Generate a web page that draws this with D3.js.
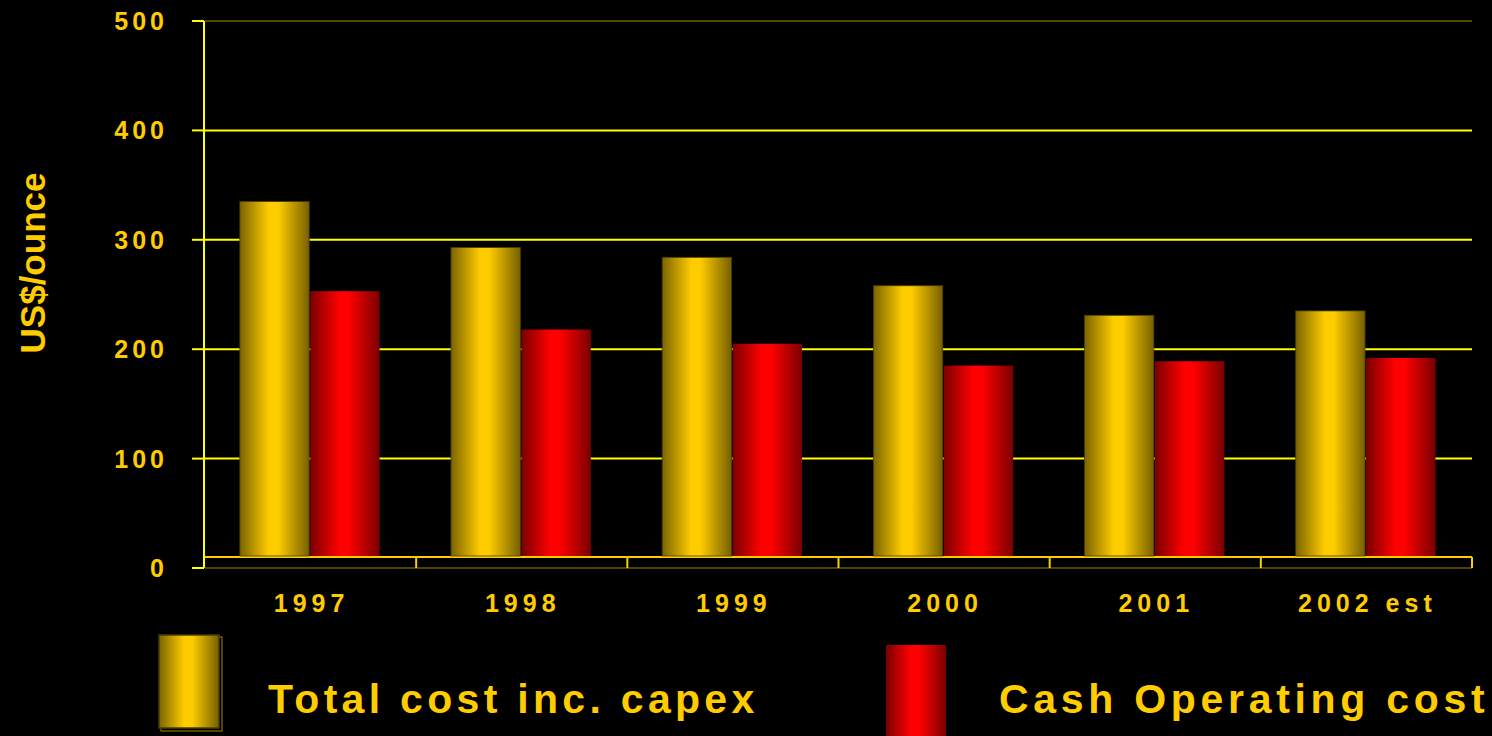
<!DOCTYPE html>
<html>
<head>
<meta charset="utf-8">
<script src="https://cdn.jsdelivr.net/npm/d3@7"></script>
<style>
  html, body { margin: 0; padding: 0; background: #000; }
  svg { display: block; }
  text { font-family: "Liberation Sans", Arial, sans-serif; font-weight: bold; fill: #ffcc00; }
</style>
</head>
<body>
<svg id="chart" width="1492" height="736"></svg>
<script>
const categories = ["1997", "1998", "1999", "2000", "2001", "2002 est"];
const seriesNames = ["Total cost inc. capex", "Cash Operating cost"];
const totalCost = [335, 293, 284, 258, 231, 235];
const cashCost = [253, 218, 205, 185, 189, 192];
const yTicks = [0, 100, 200, 300, 400, 500];

const svg = d3.select("#chart");

const left = 205, right = 1472;
const y = d3.scaleLinear().domain([0, 500]).range([568, 21]);
const floorBack = 557, floorFront = 568;

const x0 = d3.scaleBand().domain(categories).range([left, right]).padding(0);
const bw = x0.bandwidth();
const x1 = d3.scaleBand().domain(seriesNames).range([bw * 0.165, bw * 0.827]).paddingInner(0.015);

// gradients
const defs = svg.append("defs");
function grad(id, edgeL, mid, edgeR) {
  const g = defs.append("linearGradient").attr("id", id).attr("x1", "0").attr("x2", "1").attr("y1", "0").attr("y2", "0");
  g.append("stop").attr("offset", "0%").attr("stop-color", edgeL);
  g.append("stop").attr("offset", "42%").attr("stop-color", mid);
  g.append("stop").attr("offset", "55%").attr("stop-color", mid);
  g.append("stop").attr("offset", "100%").attr("stop-color", edgeR);
}
grad("gGold", "#7a6400", "#ffcc00", "#766000");
grad("gRed", "#7a0000", "#ff0000", "#7a0000");
const fills = { [seriesNames[0]]: "url(#gGold)", [seriesNames[1]]: "url(#gRed)" };
const strokes = { [seriesNames[0]]: "#4a3d00", [seriesNames[1]]: "none" };

// gridlines
svg.append("g").selectAll("line").data(yTicks.filter(d => d > 0)).join("line")
  .attr("x1", left).attr("x2", right)
  .attr("y1", d => y(d)).attr("y2", d => y(d))
  .attr("stroke", d => d === 500 ? "#6b6200" : "#ffff00")
  .attr("stroke-width", d => d === 500 ? 1.5 : 2);

// floor
svg.append("line").attr("x1", left).attr("x2", right).attr("y1", floorFront).attr("y2", floorFront)
  .attr("stroke", "#4a4500").attr("stroke-width", 2);
svg.append("line").attr("x1", left).attr("x2", right).attr("y1", floorBack).attr("y2", floorBack)
  .attr("stroke", "#ffcc00").attr("stroke-width", 2);
const bounds = categories.map(c => x0(c)).concat([right]);
svg.append("g").selectAll("line").data(bounds.slice(1)).join("line")
  .attr("x1", d => d).attr("x2", d => d).attr("y1", floorBack).attr("y2", floorFront)
  .attr("stroke", "#ffcc00").attr("stroke-width", 2);

// bars
const rows = categories.map((c, i) => ({ cat: c, vals: [
  { s: seriesNames[0], v: totalCost[i] },
  { s: seriesNames[1], v: cashCost[i] }
]}));
const grp = svg.append("g").selectAll("g").data(rows).join("g")
  .attr("transform", d => `translate(${x0(d.cat)},0)`);
grp.selectAll("rect").data(d => d.vals).join("rect")
  .attr("x", d => x1(d.s))
  .attr("width", x1.bandwidth())
  .attr("y", d => y(d.v))
  .attr("height", d => floorBack - 1 - y(d.v))
  .attr("fill", d => fills[d.s])
  .attr("stroke", d => strokes[d.s])
  .attr("stroke-width", 0.8);

// y axis
svg.append("line").attr("x1", 204).attr("x2", 204).attr("y1", y(500)).attr("y2", y(0))
  .attr("stroke", "#ffff00").attr("stroke-width", 2);
svg.append("g").selectAll("line").data(yTicks).join("line")
  .attr("x1", 192).attr("x2", 204).attr("y1", d => y(d)).attr("y2", d => y(d))
  .attr("stroke", "#ffff00").attr("stroke-width", 2);
svg.append("g").selectAll("text").data(yTicks).join("text")
  .attr("x", 168).attr("y", d => y(d)).attr("dy", "0.36em")
  .attr("text-anchor", "end")
  .style("font-size", "25px").style("letter-spacing", "4px")
  .text(d => d);

// x labels
svg.append("g").selectAll("text").data(categories).join("text")
  .attr("x", d => x0(d) + bw * 0.5 + 1).attr("y", 612)
  .attr("text-anchor", "middle")
  .style("font-size", "25px").style("letter-spacing", "5px")
  .text(d => d);

// y title
svg.append("text")
  .attr("transform", "translate(45,263) rotate(-90)")
  .attr("text-anchor", "middle")
  .style("font-size", "35px")
  .text("US$/ounce");

// legend
const legend = [
  { name: seriesNames[0], x: 159, y: 635, w: 60, h: 93, tx: 268, ls: 4.3, fill: "url(#gGold)", stroke: "#4a3d00" },
  { name: seriesNames[1], x: 886, y: 645, w: 60, h: 100, tx: 999, ls: 4.7, fill: "url(#gRed)", stroke: "none" }
];
svg.append("rect").attr("x", 161).attr("y", 637).attr("width", 61).attr("height", 94)
  .attr("fill", "none").attr("stroke", "#8a7000").attr("stroke-width", 1.2);
const lg = svg.append("g").selectAll("g").data(legend).join("g");
lg.append("rect").attr("x", d => d.x).attr("y", d => d.y).attr("width", d => d.w).attr("height", d => d.h)
  .attr("fill", d => d.fill).attr("stroke", d => d.stroke).attr("stroke-width", 1.5);
lg.append("text").attr("x", d => d.tx).attr("y", 713)
  .style("font-size", "41px").style("letter-spacing", d => d.ls + "px")
  .text(d => d.name);
</script>
</body>
</html>
